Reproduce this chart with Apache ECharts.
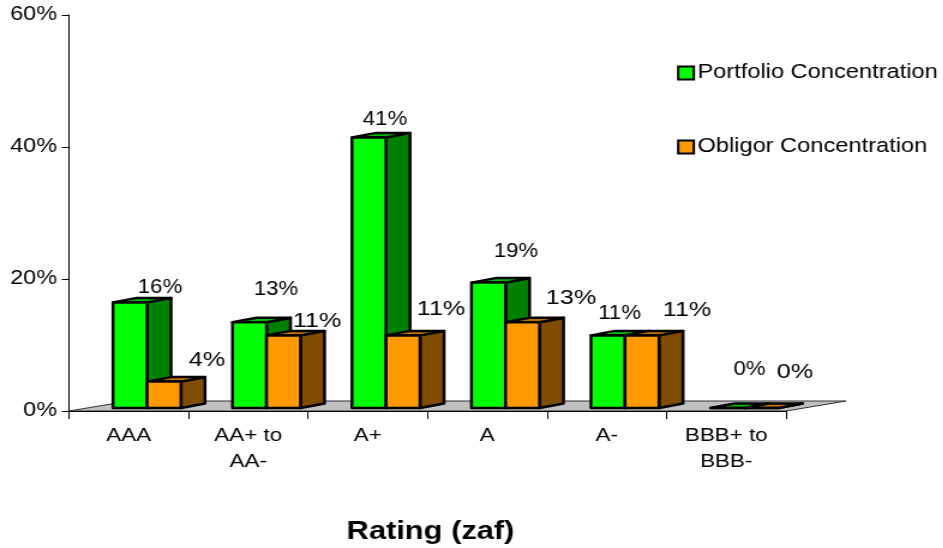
<!DOCTYPE html>
<html>
<head>
<meta charset="utf-8">
<style>
  html, body { margin: 0; padding: 0; background: #fff; overflow: hidden; }
  /* Slide-style wide lettering: the chart is laid out narrower and widened horizontally. */
  #chart { width: 786px; height: 548px; transform: scaleX(1.2); transform-origin: 0 0; }
</style>
<script src="https://cdn.jsdelivr.net/npm/echarts@6/dist/echarts.min.js"></script>
</head>
<body>
<div id="chart"></div>
<script>
const categories = ['AAA', 'AA+ to\nAA-', 'A+', 'A', 'A-', 'BBB+ to\nBBB-'];
const portfolio = [16, 13, 41, 19, 11, 0];
const obligor = [4, 11, 11, 13, 11, 0];
const yTicks = [0, 20, 40, 60];

// Horizontal widening applied to the whole chart by the stylesheet.
const WIDE = 1.2;
const FONT = '"Liberation Sans", Arial, sans-serif';

// Extrusion of the 3D columns, in layout pixels.
const DEPTH_X = 24 / WIDE;
const DEPTH_Y = -4.5;
const LIFT = 3;
const BAR_W = 34 / WIDE;

// Label placement relative to the top centre of each column's front face.
const portfolioLabelShift = [[30, -15], [26.5, -33], [16, -18], [27.5, -31], [11.5, -22], [22, -39]];
const obligorLabelShift = [[43, -21.6], [33.5, -14], [38, -26], [48.5, -24], [45, -25], [33.5, -36]];

function columnRenderer(offsetPx, front, side, top, shifts, labelSize, labelSqueeze) {
  return function (params, api) {
    const idx = api.value(0);
    const val = api.value(1);
    const base = api.coord([idx, 0]);
    const peak = api.coord([idx, val]);
    const x0 = base[0] + offsetPx / WIDE;
    const x1 = x0 + BAR_W;
    const yb = base[1] - LIFT;
    const yt = peak[1] - LIFT;
    const stroke = { stroke: '#000', lineWidth: 2.5, lineJoin: 'round' };
    const face = (pts, fill) => ({
      type: 'polygon',
      shape: { points: pts },
      style: Object.assign({ fill: fill }, stroke)
    });
    const shift = shifts[idx];
    return {
      type: 'group',
      children: [
        face([[x1, yb], [x1 + DEPTH_X, yb + DEPTH_Y], [x1 + DEPTH_X, yt + DEPTH_Y], [x1, yt]], side),
        face([[x0, yt], [x0 + DEPTH_X, yt + DEPTH_Y], [x1 + DEPTH_X, yt + DEPTH_Y], [x1, yt]], top),
        face([[x0, yb], [x1, yb], [x1, yt], [x0, yt]], front),
        {
          type: 'text',
          z2: 10,
          x: (x0 + x1) / 2 + shift[0] / WIDE,
          y: yt + shift[1],
          scaleX: labelSqueeze,
          style: {
            text: val + '%',
            fill: '#000',
            font: labelSize + 'px ' + FONT,
            textAlign: 'center',
            textVerticalAlign: 'middle'
          }
        }
      ]
    };
  };
}

// Grey floor running under the columns, from the axis line back to the wall.
function floorRenderer(params, api) {
  const first = api.coord([0, 0]);
  const last = api.coord([categories.length - 1, 0]);
  const half = api.size([1, 0])[0] / 2;
  const xl = first[0] - half;
  const xr = last[0] + half;
  const y = first[1];
  const dx = 60 / WIDE;
  return {
    type: 'polygon',
    shape: { points: [[xl, y], [xr, y], [xr + dx, y - 10], [xl + dx, y - 10]] },
    style: { fill: '#c0c0c0', stroke: '#333', lineWidth: 1 }
  };
}

const chart = echarts.init(document.getElementById('chart'), null, { renderer: 'canvas' });
chart.setOption({
  animation: false,
  backgroundColor: '#fff',
  textStyle: { fontFamily: FONT },
  title: {
    text: 'Rating (zaf)',
    left: 424.5 / WIDE,
    top: 514,
    textAlign: 'center',
    textStyle: { fontFamily: FONT, fontSize: 25.7, fontWeight: 'bold', color: '#000' }
  },
  legend: {
    orient: 'vertical',
    left: 677 / WIDE,
    top: 63,
    padding: 0,
    itemWidth: 13,
    itemHeight: 13,
    itemGap: 54,
    icon: 'rect',
    data: ['Portfolio Concentration', 'Obligor Concentration'],
    textStyle: { fontFamily: FONT, fontSize: 19.7, color: '#000', padding: [0, 0, 0, -2] }
  },
  grid: { left: 69 / WIDE, right: 786 - 786 / WIDE, top: 15, bottom: 137, containLabel: false },
  xAxis: {
    type: 'category',
    data: categories,
    z: 3,
    axisLine: { lineStyle: { color: '#000', width: 1 } },
    axisTick: { show: true, length: 8, alignWithLabel: false, lineStyle: { color: '#000' } },
    axisLabel: {
      color: '#000', fontFamily: FONT, fontSize: 18.7, margin: 12, lineHeight: 26, interval: 0
    }
  },
  yAxis: {
    type: 'value',
    min: yTicks[0],
    max: yTicks[yTicks.length - 1],
    interval: 20,
    z: 3,
    splitLine: { show: false },
    axisLine: { show: true, lineStyle: { color: '#000', width: 1 } },
    axisTick: { show: true, length: 6, lineStyle: { color: '#000' } },
    axisLabel: { color: '#000', fontFamily: FONT, fontSize: 19.5, margin: 10, formatter: '{value}%' }
  },
  series: [
    {
      name: 'floor',
      type: 'custom',
      z: 1,
      silent: true,
      renderItem: floorRenderer,
      data: [[0, 0]],
      encode: { x: 0, y: 1 }
    },
    {
      name: 'Portfolio Concentration',
      type: 'custom',
      z: 2,
      itemStyle: { color: '#00ff00', borderColor: '#000', borderWidth: 2 },
      renderItem: columnRenderer(-15.75, '#00ff00', '#008000', '#00c000', portfolioLabelShift, 21, 0.88),
      data: portfolio.map((v, i) => [i, v]),
      encode: { x: 0, y: 1 }
    },
    {
      name: 'Obligor Concentration',
      type: 'custom',
      z: 3,
      itemStyle: { color: '#ff9900', borderColor: '#000', borderWidth: 2 },
      renderItem: columnRenderer(18.25, '#ff9900', '#804c00', '#c07400', obligorLabelShift, 21, 1),
      data: obligor.map((v, i) => [i, v]),
      encode: { x: 0, y: 1 }
    }
  ]
});
</script>
</body>
</html>
